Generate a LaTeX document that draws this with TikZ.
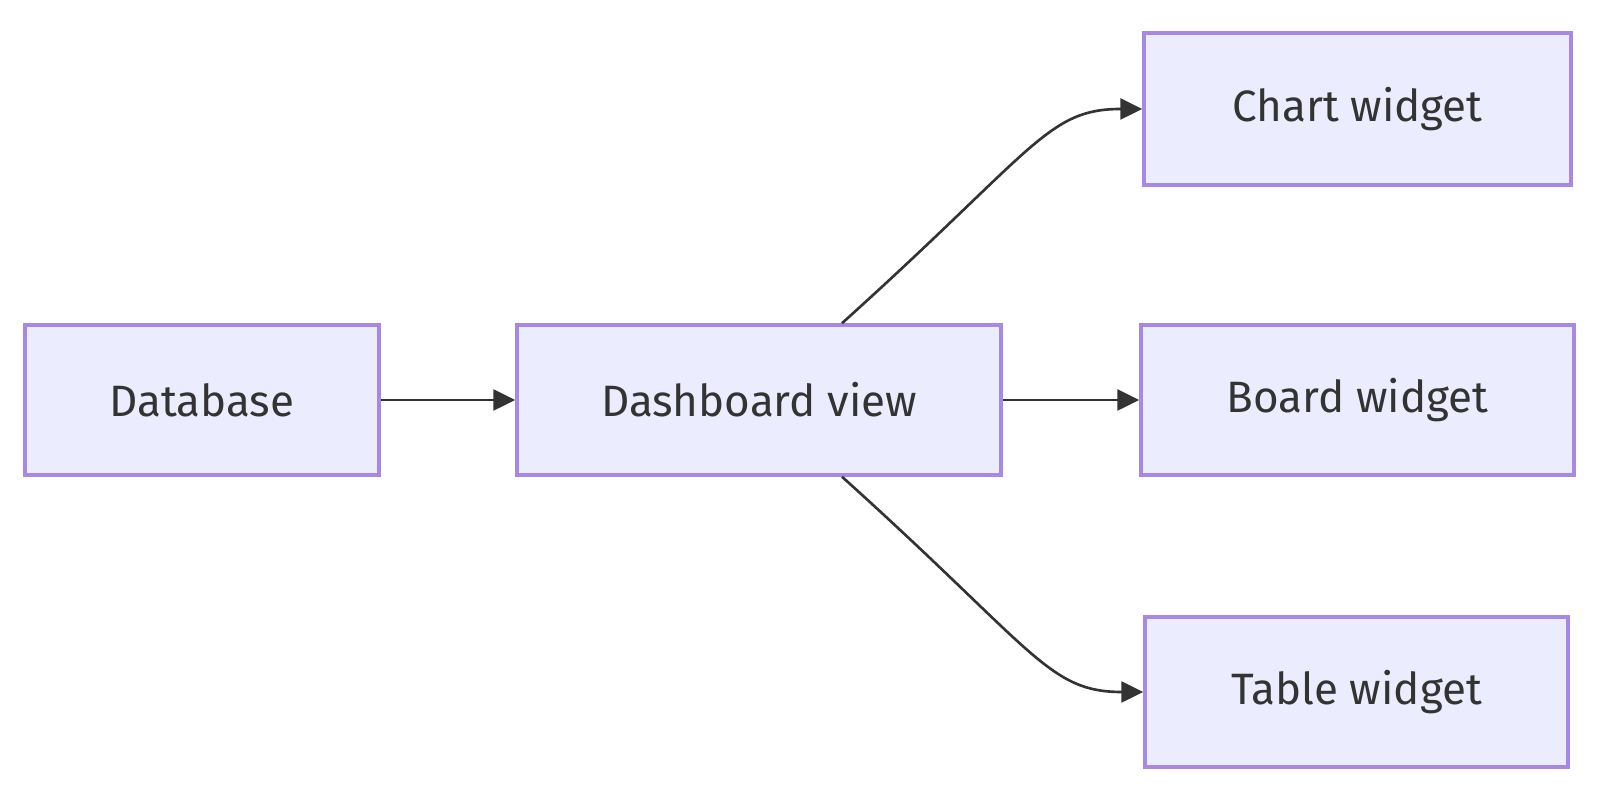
\documentclass[tikz,border=0pt]{standalone}
\usepackage{fontspec}
\setmainfont{Fira Sans}
\usepackage{xcolor}
\usetikzlibrary{arrows.meta}
\definecolor{boxfill}{HTML}{ECECFF}
\definecolor{boxline}{HTML}{A788E4}
\definecolor{ink}{HTML}{333333}
\tikzset{box/.style={draw=boxline, fill=boxfill, line width=1pt,
   minimum height=1.5cm, inner sep=0pt, text=ink,
   font=\fontsize{12.5}{15}\selectfont},
 link/.style={draw=ink, line width=0.75pt,
   -{Triangle[length=0.22cm,width=0.21cm]}},
 }

\begin{document}
\begin{tikzpicture}
        \useasboundingbox (0,0) rectangle (16,8);
        \node[box, minimum width=3.54cm] (db) at (2.02, 4) {Database};
        \node[box, minimum width=4.84cm] (dash) at (7.59, 4) {Dashboard view};
        \node[box, minimum width=4.27cm, minimum height=1.52cm] (chart) at (13.575, 6.91) {Chart widget};
        \node[box, minimum width=4.33cm] (board) at (13.575, 4) {Board widget};
        \node[box, minimum width=4.23cm] (table) at (13.565, 1.08) {Table widget};
        \draw[link] (db) -- (dash);
        \draw[link] (dash) -- (board);
        \draw[link] ([xshift=0.83cm]dash.north) .. controls +(42:2.6) and +(-0.95,0) .. (chart.west);
        \draw[link] ([xshift=0.83cm]dash.south) .. controls +(-42:2.6) and +(-0.95,0) .. (table.west);
    \end{tikzpicture}
\end{document}
